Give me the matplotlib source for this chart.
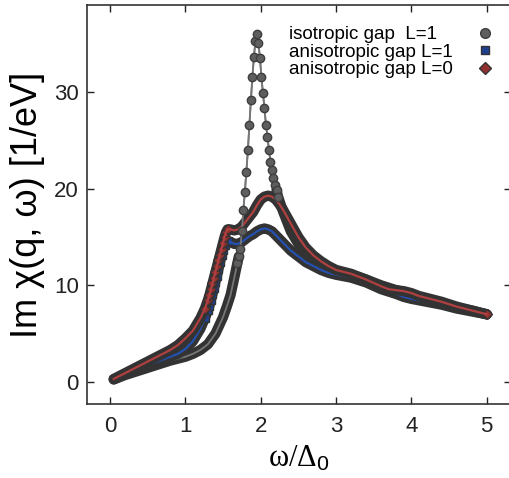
import matplotlib
matplotlib.use('Agg')
import matplotlib.pyplot as plt
import numpy as np

plt.rcParams['font.family'] = ['Liberation Sans', 'DejaVu Sans']
plt.rcParams['mathtext.fontset'] = 'custom'
plt.rcParams['mathtext.rm'] = 'Liberation Serif'
plt.rcParams['mathtext.it'] = 'Liberation Serif:italic'
plt.rcParams['mathtext.sf'] = 'Liberation Sans'

# isotropic gap L=1
iso_x = [0.05, 0.2, 0.4, 0.6, 0.8, 1.0, 1.1, 1.2, 1.3, 1.4,
         1.5, 1.55, 1.6, 1.65, 1.69, 1.71, 1.73, 1.75, 1.77, 1.79,
         1.81, 1.83, 1.85, 1.87, 1.89, 1.91, 1.93, 1.95, 1.97, 1.99,
         2.01, 2.03, 2.05, 2.07, 2.09, 2.11, 2.13, 2.15, 2.17, 2.19,
         2.21, 2.23, 2.3, 2.4, 2.5, 2.6, 2.8, 3.0, 3.2, 3.4,
         3.6, 3.8, 3.9, 4.0, 4.2, 4.4, 4.6, 4.8, 5.0]
iso_y = [0.25, 0.7, 1.2, 1.7, 2.2, 2.6, 2.9, 3.3, 3.9, 5.0,
         6.7, 7.8, 9.0, 10.8, 12.3, 13.0, 13.8, 15.6, 17.8, 19.7,
         21.8, 24.0, 26.6, 29.2, 31.6, 33.7, 35.3, 36.1, 35.1, 33.6,
         31.6, 29.9, 28.4, 26.6, 25.4, 24.0, 22.8, 22.0, 21.1, 20.4,
         19.9, 19.2, 17.6, 15.6, 14.3, 13.3, 12.1, 11.4, 11.1, 10.6,
         10.0, 9.5, 9.3, 9.0, 8.6, 8.2, 7.7, 7.4, 7.0]

# anisotropic gap L=1
an1_x = [0.05, 0.2, 0.4, 0.6, 0.8, 0.9, 1.0, 1.1, 1.2, 1.26,
         1.3, 1.32, 1.34, 1.36, 1.38, 1.40, 1.42, 1.44, 1.46, 1.48,
         1.50, 1.52, 1.54, 1.56, 1.60, 1.65, 1.70, 1.75, 1.80, 1.85,
         1.90, 1.95, 2.00, 2.05, 2.10, 2.15, 2.20, 2.25, 2.30, 2.40,
         2.50, 2.60, 2.70, 2.80, 2.90, 3.00, 3.20, 3.40, 3.60, 3.80,
         3.90, 4.00, 4.20, 4.40, 4.60, 4.80, 5.00]
an1_y = [0.25, 0.8, 1.4, 2.0, 2.6, 2.9, 3.4, 4.2, 5.5, 6.6,
         7.4, 7.9, 8.5, 9.1, 9.7, 10.4, 11.0, 11.7, 12.4, 13.1,
         13.7, 14.2, 14.5, 14.6, 14.5, 14.3, 14.3, 14.5, 14.8, 15.1,
         15.3, 15.6, 15.8, 15.9, 15.8, 15.6, 15.2, 14.8, 14.4, 13.6,
         13.0, 12.4, 12.0, 11.6, 11.3, 11.1, 10.8, 10.3, 9.6, 9.1,
         8.8, 8.6, 8.3, 8.0, 7.6, 7.3, 7.0]

# anisotropic gap L=0
an0_x = [0.05, 0.2, 0.4, 0.6, 0.8, 0.9, 1.0, 1.1, 1.2, 1.26,
         1.3, 1.32, 1.34, 1.36, 1.38, 1.40, 1.42, 1.44, 1.46, 1.48,
         1.50, 1.52, 1.54, 1.56, 1.60, 1.65, 1.70, 1.75, 1.80, 1.85,
         1.90, 1.95, 2.00, 2.05, 2.10, 2.15, 2.20, 2.25, 2.30, 2.35,
         2.40, 2.50, 2.60, 2.70, 2.80, 2.90, 3.00, 3.10, 3.20, 3.40,
         3.60, 3.70, 3.80, 3.90, 4.00, 4.10, 4.20, 4.40, 4.60, 4.80,
         5.00]
an0_y = [0.3, 0.9, 1.7, 2.5, 3.3, 3.8, 4.5, 5.3, 6.6, 7.6,
         8.5, 9.0, 9.6, 10.2, 10.8, 11.4, 12.0, 12.6, 13.2, 13.8,
         14.4, 15.0, 15.5, 15.8, 15.8, 15.7, 15.8, 16.1, 16.6, 17.1,
         17.6, 18.3, 18.9, 19.2, 19.3, 19.2, 18.9, 18.4, 17.8, 17.1,
         16.4, 15.0, 13.9, 13.1, 12.5, 12.0, 11.6, 11.4, 11.2, 10.6,
         9.9, 9.6, 9.5, 9.4, 9.2, 8.9, 8.7, 8.3, 7.8, 7.4,
         7.0]

labels = ['isotropic gap  L=1', 'anisotropic gap L=1', 'anisotropic gap L=0']

BAND = '#333333'
BW = 7.4

fig = plt.figure(figsize=(5.1, 4.78), dpi=100)
ax = fig.add_axes([87 / 510, 1 - 404 / 478, 424 / 510, 399 / 478])

ix, iy = np.array(iso_x), np.array(iso_y)
bx, by = np.array(an1_x), np.array(an1_y)
rx, ry = np.array(an0_x), np.array(an0_y)

band = dict(color=BAND, lw=BW, solid_capstyle='round', solid_joinstyle='round')

# isotropic: dark band where the points are dense, single circles at the peak
lo = ix <= 1.71
hi = ix >= 2.21
pk = (ix >= 1.69) & (ix <= 2.23)
ax.plot(ix[lo], iy[lo], zorder=2, **band)
ax.plot(ix[hi], iy[hi], zorder=2, **band)
ax.plot(ix, iy, color='#777777', lw=1.3, zorder=2.5)

# anisotropic L=1
ax.plot(bx, by, zorder=3, **band)
m1 = (bx >= 1.26) & (bx <= 1.56)
hb, = ax.plot(bx[m1], by[m1], ls='none', marker='s', ms=5.5, mfc='#1f3f8f',
              mec=BAND, mew=1.0, zorder=3.2, label=labels[1])
ax.plot(bx, by, color='#2450b0', lw=1.6, zorder=3.5)

# anisotropic L=0
ax.plot(rx, ry, zorder=4, **band)
m0 = ((rx >= 1.26) & (rx <= 1.56)) | (rx >= 5.0)
hr, = ax.plot(rx[m0], ry[m0], ls='none', marker='D', ms=5.5, mfc='#923030',
              mec=BAND, mew=1.0, zorder=4.2, label=labels[2])
ax.plot(rx, ry, color='#b04040', lw=1.6, zorder=4.5)

# isotropic peak circles on top
hc, = ax.plot(ix[pk], iy[pk], color='#777777', lw=1.3, marker='o', ms=6,
              mfc='#5e5e5e', mec='#3e3e3e', mew=1.0, zorder=6, label=labels[0])

ax.set_xlim(-0.305, 5.322)
ax.set_ylim(-2.3, 39.07)
ax.set_xticks([0, 1, 2, 3, 4, 5])
ax.set_yticks([0, 10, 20, 30])
ax.tick_params(direction='in', length=5, width=1, top=True, right=True,
               labelsize=16, colors='#222222')
ax.tick_params(axis='x', pad=9)
ax.tick_params(axis='y', pad=6)
for s in ax.spines.values():
    s.set_linewidth(1.2)
    s.set_color('#333333')

ax.set_xlabel(r'$\mathrm{\omega/\Delta}_{\mathsf{0}}$', fontsize=22, labelpad=4)
ax.set_ylabel('Im χ(q, ω) [1/eV]', fontsize=26, labelpad=6)

fs = 13.5
leg = ax.legend(handles=[hc, hb, hr], loc='upper right', bbox_to_anchor=(1.0, 0.966),
                frameon=False, markerfirst=False, fontsize=fs, labelspacing=0.02,
                handlelength=2.0, handletextpad=0.7, borderaxespad=0, borderpad=0.4)
for h, ms in zip(leg.legend_handles, [7, 6, 6.2]):
    h.set_linestyle('none')
    h.set_markersize(ms)

# left-align the legend texts while keeping the markers in one column
fig.canvas.draw()
r = fig.canvas.get_renderer()
widths = [t.get_window_extent(r).width for t in leg.texts]
wmax = max(widths)
rows = [row for col in leg._legend_handle_box.get_children() for row in col.get_children()]
for row, w in zip(rows, widths):
    row.sep = 0.7 * fs + (wmax - w) * 72 / fig.dpi

fig.savefig('out.png', dpi=100)
